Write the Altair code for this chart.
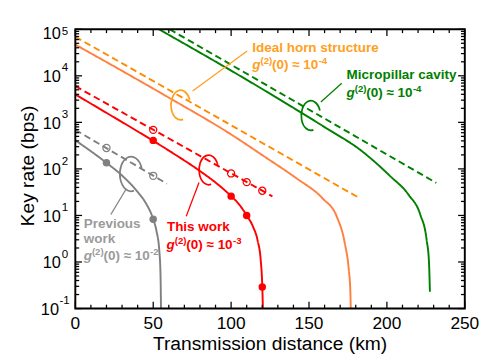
import altair as alt
import pandas as pd

# ---------------- data ----------------
gray_solid_km = [0, 10, 20, 30, 40, 45, 50, 52, 54, 54.7, 55.0]
gray_solid_rate = [410, 240, 135, 72, 32, 19, 8.3, 4.8, 1.6, 0.5, 0.1]
gray_dash_km = [0, 58.8]
gray_dash_rate = [690, 48]
gray_dot_km = [20, 50]
gray_dot_rate = [135, 8.3]
gray_ring_km = [20, 50]
gray_ring_rate = [282, 71]

red_solid_km = [0, 20, 40, 60, 80, 90, 100, 105, 110, 114, 117, 119, 120, 120.4]
red_solid_rate = [3980, 1600, 640, 248, 90, 51, 26, 17.5, 10, 5.8, 2.9, 1.1, 0.3, 0.1]
red_dash_km = [0, 126.5]
red_dash_rate = [6000, 25.7]
red_dot_km = [50, 100, 110, 120]
red_dot_rate = [410, 26, 10, 0.29]
red_ring_km = [50, 100, 110, 120]
red_ring_rate = [690, 80, 52, 34]

orange_solid_km = [0, 60, 100, 121.6, 142.2, 158.6, 167.9, 173, 175.5, 176.5, 176.8]
orange_solid_rate = [46800, 3400, 550, 182, 62, 23.4, 9.3, 2.5, 0.7, 0.25, 0.1]
orange_dash_km = [0, 182]
orange_dash_rate = [69000, 24]

green_solid_km = [53.7, 120, 160, 183.3, 201.9, 214.2, 221.4, 225.5, 227, 227.6]
green_solid_rate = [100000, 5200, 790, 250, 71, 27, 10.5, 3.0, 1.0, 0.23]
green_dash_km = [60.5, 231.7]
green_dash_rate = [100000, 50]

# annotation groups: gray, red, orange, green
ann_keys = ["gray", "red", "orange_text", "green"]
ann_text_keys = ["gray_text", "red", "orange_text", "green"]
ellipse_km = [35.8, 85.6, 67.6, 151.2]
ellipse_rate = [78, 95, 2350, 1400]
leader_km1 = [32.7, 79.4, 75.3, 157.6]
leader_rate1 = [37.5, 51, 4700, 2740]
leader_km2 = [22.8, 71.2, 110.3, 171.0]
leader_rate2 = [10.5, 9.6, 34000, 6900]

title_texts = ["Previous", "work", "This work", "Ideal horn structure", "Micropillar cavity"]
title_keys = ["gray_text", "gray_text", "red", "orange_text", "green"]
title_km = [5.4, 5.4, 58.8, 113.6, 174.1]
title_rate = [5.3, 2.57, 4.72, 32900, 8430]

g_km = [5.4, 58.6, 113.6, 174.1]
g_rate = [1.1, 1.9, 14200, 3580]
g_exp = ["-2", "-3", "-4", "-4"]

x_title = "Transmission distance (km)"
y_title = "Key rate (bps)"
x_major = [0, 50, 100, 150, 200, 250]
x_major_labels = ["0", "50", "100", "150", "200", "250"]
x_minor = [10, 20, 30, 40, 60, 70, 80, 90, 110, 120, 130, 140, 160, 170, 180, 190,
           210, 220, 230, 240]
y_major = [0.1, 1, 10, 100, 1000, 10000, 100000]
y_major_exp = ["-1", "0", "1", "2", "3", "4", "5"]
y_minor = [m * 10.0 ** k for k in range(-1, 5) for m in range(2, 10)]

# ---------------- tables ----------------
def series(km, rate, key, style):
    return pd.DataFrame({"km": km, "rate": rate, "key": key, "style": style,
                         "lid": key + "_" + style})

lines_df = pd.concat([
    series(gray_solid_km, gray_solid_rate, "gray", "solid"),
    series(gray_dash_km, gray_dash_rate, "gray", "dashed"),
    series(red_solid_km, red_solid_rate, "red", "solid"),
    series(red_dash_km, red_dash_rate, "red", "dashed"),
    series(orange_solid_km, orange_solid_rate, "orange_s", "solid"),
    series(orange_dash_km, orange_dash_rate, "orange_d", "dashed"),
    series(green_solid_km, green_solid_rate, "green", "solid"),
    series(green_dash_km, green_dash_rate, "green", "dashed"),
], ignore_index=True)

dots_df = pd.concat([
    pd.DataFrame({"km": gray_dot_km, "rate": gray_dot_rate, "key": "gray"}),
    pd.DataFrame({"km": red_dot_km, "rate": red_dot_rate, "key": "red"}),
], ignore_index=True)
rings_df = pd.concat([
    pd.DataFrame({"km": gray_ring_km, "rate": gray_ring_rate, "key": "gray"}),
    pd.DataFrame({"km": red_ring_km, "rate": red_ring_rate, "key": "red"}),
], ignore_index=True)

ann_df = pd.DataFrame({"key": ann_keys, "km": ellipse_km, "rate": ellipse_rate,
                       "km1": leader_km1, "rate1": leader_rate1,
                       "km2": leader_km2, "rate2": leader_rate2})
title_df = pd.DataFrame({"text": title_texts, "key": title_keys, "km": title_km, "rate": title_rate})
g_df = pd.DataFrame({"key": ann_text_keys, "km": g_km, "rate": g_rate, "exp": g_exp})
ylab_df = pd.DataFrame({"v": y_major, "e": y_major_exp})
xlab_df = pd.DataFrame({"v": x_major, "t": x_major_labels})
one_df = pd.DataFrame({"xt": [x_title], "yt": [y_title]})

# ---------------- styling ----------------
FONT = "Liberation Sans"
W, H = 405, 290.4
KEYS = ["gray", "gray_text", "red", "orange_s", "orange_d", "orange_text", "green"]
COLORS = ["#808080", "#9b9b9b", "#ff0000", "#ff8040", "#ff8c00", "#ffa01e", "#008000"]
XS = alt.Scale(domain=[0, 250], nice=False, zero=False)
YS = alt.Scale(type="log", domain=[0.1, 100000], nice=False)
CS = alt.Scale(domain=KEYS, range=COLORS)
col = alt.Color("key:N", scale=CS, legend=None)
# open ellipse (gap on the lower right), cubic Bezier segments
ELLIPSE = ("M 0.168 0.966 C -0.171 1.106 -0.522 0.805 -0.623 0.287 "
           "C -0.724 -0.232 -0.538 -0.779 -0.204 -0.949 "
           "C 0.129 -1.119 0.491 -0.850 0.611 -0.342")


def xe(f):
    return alt.X(f"{f}:Q", scale=XS, axis=None)


def ye(f):
    return alt.Y(f"{f}:Q", scale=YS, axis=None)


lines = alt.Chart(lines_df).mark_line(strokeWidth=2, clip=True, interpolate="monotone").encode(
    x=xe("km"), y=ye("rate"), color=col,
    strokeDash=alt.StrokeDash("style:N", scale=alt.Scale(
        domain=["solid", "dashed"], range=[[1, 0], [7, 4]]), legend=None),
    detail="lid:N",
)

dots = alt.Chart(dots_df).mark_circle(size=60, opacity=1).encode(
    x=xe("km"), y=ye("rate"), color=col)
rings = alt.Chart(rings_df).mark_point(size=55, filled=False, strokeWidth=1.3, opacity=1).encode(
    x=xe("km"), y=ye("rate"), color=col)

ell_big = alt.Chart(ann_df).transform_filter(alt.datum.key == "gray").mark_point(
    shape=ELLIPSE, size=1300, filled=False, strokeWidth=1.8, opacity=1).encode(
    x=xe("km"), y=ye("rate"), color=col)
ell = alt.Chart(ann_df).transform_filter(alt.datum.key != "gray").mark_point(
    shape=ELLIPSE, size=950, filled=False, strokeWidth=1.8, opacity=1).encode(
    x=xe("km"), y=ye("rate"), color=col)
leaders = alt.Chart(ann_df).mark_rule(strokeWidth=1.3).encode(
    x=xe("km1"), y=ye("rate1"), x2="km2:Q", y2="rate2:Q", color=col)

titles = alt.Chart(title_df).mark_text(
    font=FONT, fontSize=14, fontWeight="bold", align="left", baseline="alphabetic").encode(
    x=xe("km"), y=ye("rate"), text="text:N", color=col)
g1 = alt.Chart(g_df).mark_text(
    font=FONT, fontSize=14, fontWeight="bold", fontStyle="italic", align="left",
    baseline="alphabetic").encode(x=xe("km"), y=ye("rate"), text=alt.value("g"), color=col)
g2 = alt.Chart(g_df).mark_text(
    font=FONT, fontSize=10, fontWeight="bold", align="left", baseline="alphabetic",
    dx=8.5, dy=-5).encode(x=xe("km"), y=ye("rate"), text=alt.value("(2)"), color=col)
g3 = alt.Chart(g_df).mark_text(
    font=FONT, fontSize=14, fontWeight="bold", align="left", baseline="alphabetic",
    dx=20.5).encode(x=xe("km"), y=ye("rate"), text=alt.value("(0) \u2248 10"), color=col)
g4 = alt.Chart(g_df).mark_text(
    font=FONT, fontSize=10, fontWeight="bold", align="left", baseline="alphabetic",
    dx=69, dy=-5).encode(x=xe("km"), y=ye("rate"), text="exp:N", color=col)


# y tick labels 10^k  (three groups: bottom label, top label, the rest)
def ylabels(cond, ten_x, exp_x, ten_dy, exp_dy):
    b = alt.Chart(ylab_df).transform_filter(cond)
    ten = b.mark_text(font=FONT, fontSize=17, align="right", baseline="middle",
                      dy=ten_dy, color="black").encode(
        y=ye("v"), x=alt.value(ten_x), text=alt.value("10"))
    ex = b.mark_text(font=FONT, fontSize=12, align="left", baseline="middle",
                     dy=exp_dy, color="black").encode(
        y=ye("v"), x=alt.value(exp_x), text="e:N")
    return [ten, ex]


ylab_layers = (
    ylabels((alt.datum.e != "-1") & (alt.datum.e != "5"), -15, -14, 1.5, -8.5)
    + ylabels(alt.datum.e == "-1", -17, -16.5, 1.5, -8.5)
    + ylabels(alt.datum.e == "5", -15, -14, 5.5, 1.5)
)

xlabels = alt.Chart(xlab_df).mark_text(
    font=FONT, fontSize=18, align="center", baseline="top", color="black").encode(
    x=xe("v"), y=alt.value(H + 7), text="t:N")

xtitle = alt.Chart(one_df).mark_text(
    font=FONT, fontSize=20, align="center", baseline="middle", color="black").encode(
    x=alt.value(W / 2), y=alt.value(H + 37), text="xt:N")
ytitle = alt.Chart(one_df).mark_text(
    font=FONT, fontSize=20, align="center", baseline="middle", angle=270, color="black").encode(
    x=alt.value(-49), y=alt.value(H / 2 - 3), text="yt:N")

frame = alt.Chart(one_df).mark_rect(
    fill=None, fillOpacity=0, stroke="black", strokeWidth=2).encode(
    x=alt.value(0), x2=alt.value(W), y=alt.value(0), y2=alt.value(H))


def xticks(vals, L):
    b = alt.Chart(pd.DataFrame({"v": vals})).mark_rule(color="black", strokeWidth=1.3)
    return [b.encode(x=xe("v"), y=alt.value(H), y2=alt.value(H - L)),
            b.encode(x=xe("v"), y=alt.value(0), y2=alt.value(L))]


def yticks(vals, L):
    b = alt.Chart(pd.DataFrame({"v": vals})).mark_rule(color="black", strokeWidth=1.3)
    return [b.encode(y=ye("v"), x=alt.value(0), x2=alt.value(L)),
            b.encode(y=ye("v"), x=alt.value(W), x2=alt.value(W - L))]


tick_layers = xticks(x_major, 7) + xticks(x_minor, 4) + yticks(y_major, 7) + yticks(y_minor, 4)

chart = alt.layer(
    lines, rings, dots, ell_big, ell, leaders, titles, g1, g2, g3, g4,
    *ylab_layers, xlabels, xtitle, ytitle, *tick_layers, frame
).properties(
    width=W, height=H,
    padding={"left": 11, "top": 10, "right": 5, "bottom": 5},
).configure_view(stroke=None)

chart.save("out.html", embed_options={"renderer": "svg", "actions": False})
